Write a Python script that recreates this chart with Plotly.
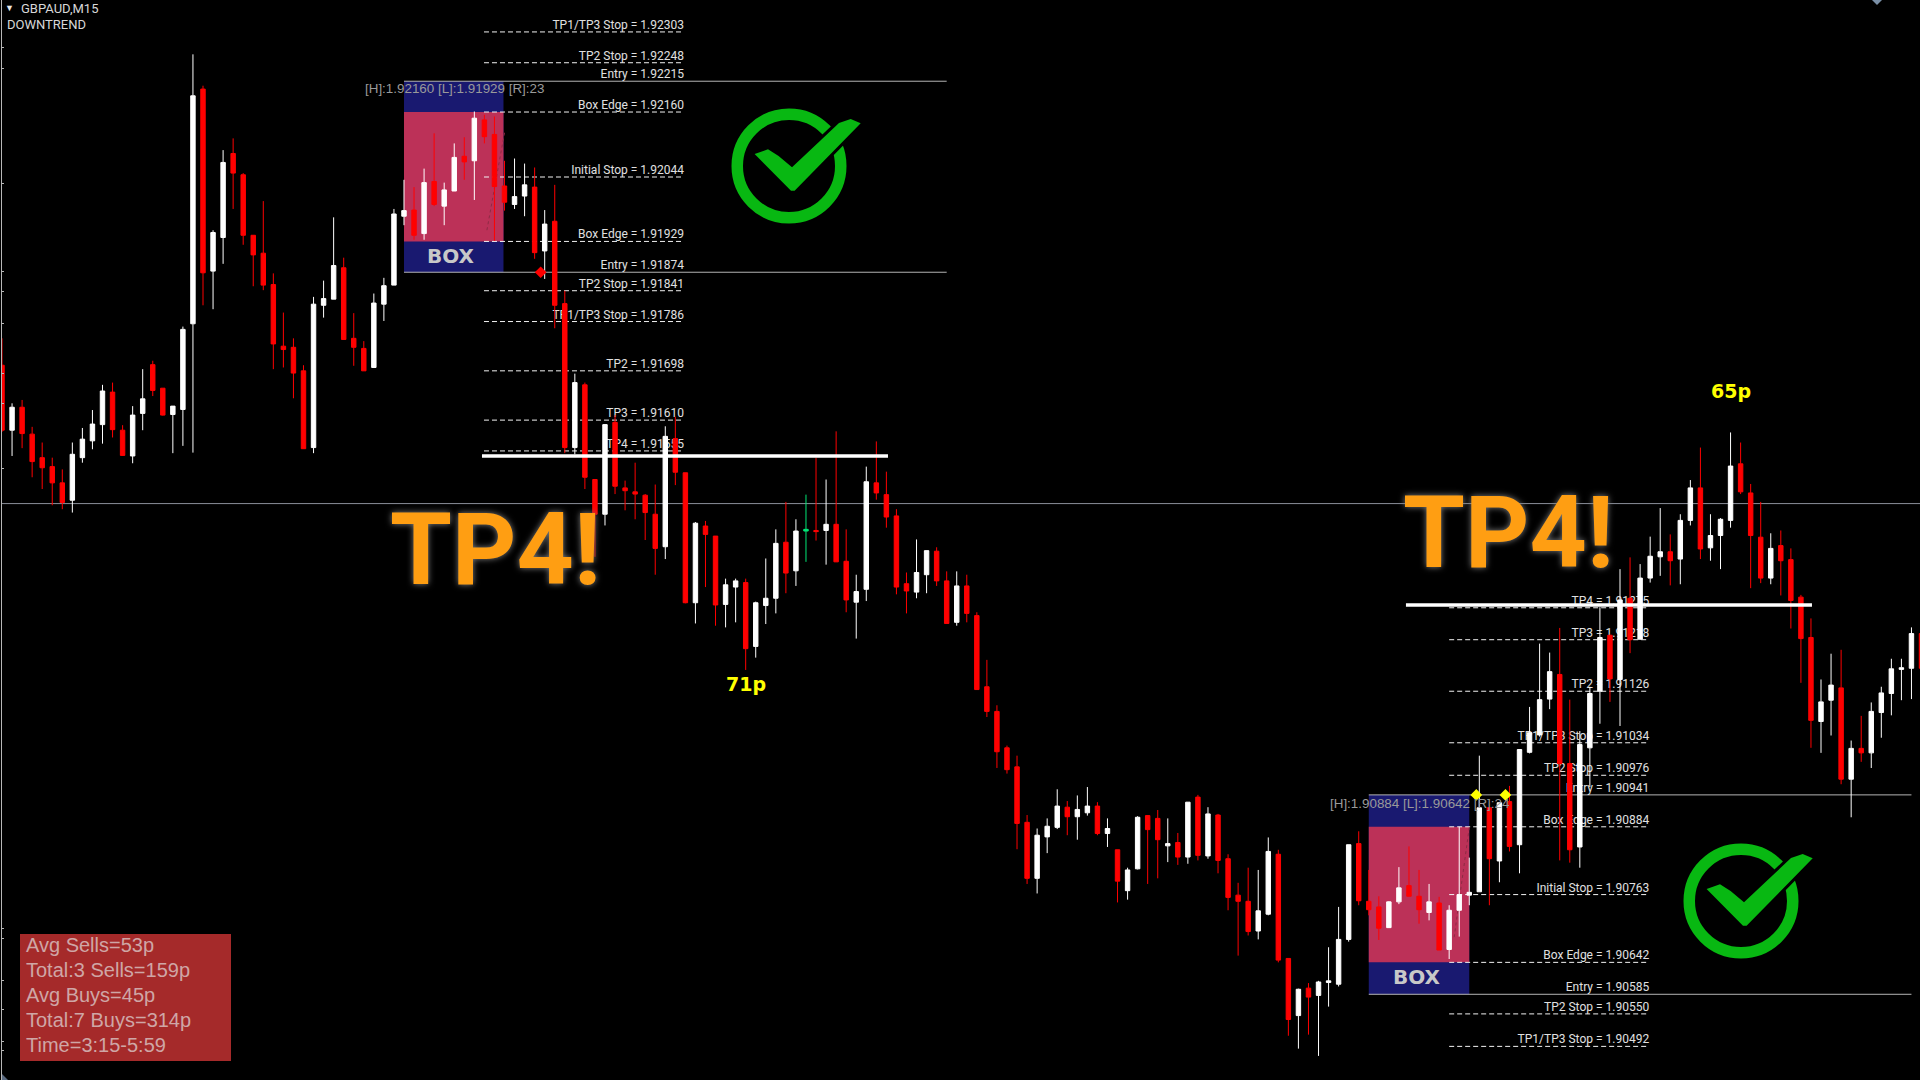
"""
GBPAUD M15 box breakout chart, two TP4 trades
"""

import numpy as np
import plotly.graph_objects as go

# chart data, prices
opens = [
    1.91708, 1.91592, 1.91633, 1.91585, 1.91543, 1.91527, 1.91498, 1.91467, 1.91543, 1.91573,
    1.91602, 1.91660, 1.91592, 1.91546, 1.91622, 1.91709, 1.91667, 1.91620, 1.91629, 1.91782,
    1.92201, 1.91876, 1.91936, 1.92086, 1.92048, 1.91940, 1.91908, 1.91852, 1.91742, 1.91740,
    1.91698, 1.91561, 1.91815, 1.91826, 1.91882, 1.91756, 1.91738, 1.91704, 1.91817, 1.91851,
    1.91974, 1.91985, 1.91943, 1.92036, 1.91992, 1.92019, 1.92081, 1.92073, 1.92146, 1.92120,
    1.92028, 1.91995, 1.92010, 1.92026, 1.91912, 1.91965, 1.91818, 1.91561, 1.91673, 1.91504,
    1.91442, 1.91606, 1.91489, 1.91482, 1.91476, 1.91442, 1.91384, 1.91577, 1.91516, 1.91284,
    1.91421, 1.91403, 1.91281, 1.91312, 1.91320, 1.91206, 1.91279, 1.91292, 1.91392, 1.91341,
    1.91412, 1.91413, 1.91413, 1.91424, 1.91358, 1.91285, 1.91308, 1.91498, 1.91477, 1.91439,
    1.91318, 1.91303, 1.91334, 1.91376, 1.91323, 1.91249, 1.91314, 1.91261, 1.91134, 1.91090,
    1.91025, 1.90991, 1.90892, 1.90792, 1.90866, 1.90883, 1.90919, 1.90902, 1.90909, 1.90921,
    1.90872, 1.90843, 1.90770, 1.90809, 1.90904, 1.90899, 1.90850, 1.90856, 1.90830, 1.90937,
    1.90832, 1.90905, 1.90827, 1.90762, 1.90751, 1.90698, 1.90728, 1.90835, 1.90649, 1.90547,
    1.90596, 1.90583, 1.90606, 1.90603, 1.90683, 1.90854, 1.90751, 1.90741, 1.90704, 1.90750,
    1.90779, 1.90760, 1.90731, 1.90748, 1.90665, 1.90735, 1.90762, 1.90768, 1.90918, 1.90823,
    1.90929, 1.90852, 1.91017, 1.91048, 1.91112, 1.91156, 1.90997, 1.90848, 1.91025, 1.91126,
    1.91226, 1.91147, 1.91292, 1.91219, 1.91328, 1.91366, 1.91375, 1.91362, 1.91431, 1.91489,
    1.91382, 1.91404, 1.91431, 1.91532, 1.91480, 1.91401, 1.91328, 1.91386, 1.91361, 1.91294,
    1.91222, 1.91072, 1.91110, 1.91132, 1.90969, 1.91024, 1.91016, 1.91088, 1.91122, 1.91165,
    1.91167, 1.91229,
]
highs = [
    1.91756, 1.91640, 1.91646, 1.91598, 1.91570, 1.91543, 1.91522, 1.91570, 1.91596, 1.91628,
    1.91673, 1.91677, 1.91601, 1.91635, 1.91701, 1.91716, 1.91667, 1.91635, 1.91777, 1.92263,
    1.92207, 1.91949, 1.92092, 1.92113, 1.92051, 1.91940, 1.92001, 1.91872, 1.91802, 1.91756,
    1.91708, 1.91830, 1.91859, 1.91972, 1.91900, 1.91801, 1.91751, 1.91836, 1.91864, 1.91987,
    1.92039, 1.92026, 1.92059, 1.92122, 1.92034, 1.92104, 1.92115, 1.92161, 1.92155, 1.92152,
    1.92073, 1.92077, 1.92068, 1.92061, 1.91985, 1.92030, 1.91841, 1.91693, 1.91677, 1.91504,
    1.91603, 1.91619, 1.91502, 1.91534, 1.91478, 1.91495, 1.91599, 1.91616, 1.91516, 1.91428,
    1.91430, 1.91403, 1.91327, 1.91327, 1.91327, 1.91286, 1.91363, 1.91415, 1.91464, 1.91433,
    1.91477, 1.91543, 1.91504, 1.91590, 1.91415, 1.91334, 1.91527, 1.91572, 1.91518, 1.91451,
    1.91338, 1.91397, 1.91377, 1.91383, 1.91340, 1.91340, 1.91334, 1.91267, 1.91182, 1.91101,
    1.91029, 1.91011, 1.90905, 1.90881, 1.90899, 1.90951, 1.90930, 1.90940, 1.90955, 1.90928,
    1.90899, 1.90843, 1.90811, 1.90903, 1.90905, 1.90914, 1.90899, 1.90873, 1.90928, 1.90941,
    1.90919, 1.90907, 1.90835, 1.90784, 1.90811, 1.90807, 1.90865, 1.90843, 1.90649, 1.90595,
    1.90605, 1.90609, 1.90669, 1.90741, 1.90852, 1.90876, 1.90807, 1.90760, 1.90751, 1.90812,
    1.90849, 1.90807, 1.90782, 1.90759, 1.90744, 1.90884, 1.90829, 1.91011, 1.90918, 1.90927,
    1.90957, 1.91022, 1.91098, 1.91211, 1.91195, 1.91239, 1.91111, 1.91055, 1.91134, 1.91276,
    1.91226, 1.91344, 1.91365, 1.91353, 1.91402, 1.91453, 1.91406, 1.91442, 1.91503, 1.91561,
    1.91442, 1.91435, 1.91588, 1.91570, 1.91496, 1.91464, 1.91408, 1.91413, 1.91381, 1.91298,
    1.91256, 1.91147, 1.91193, 1.91200, 1.91038, 1.91082, 1.91106, 1.91134, 1.91184, 1.91184,
    1.91240, 1.91235,
]
lows = [
    1.91589, 1.91546, 1.91560, 1.91508, 1.91487, 1.91458, 1.91451, 1.91445, 1.91534, 1.91558,
    1.91568, 1.91579, 1.91546, 1.91533, 1.91592, 1.91653, 1.91618, 1.91551, 1.91564, 1.91552,
    1.91815, 1.91808, 1.91889, 1.91987, 1.91923, 1.91849, 1.91842, 1.91701, 1.91704, 1.91649,
    1.91559, 1.91551, 1.91793, 1.91826, 1.91754, 1.91707, 1.91698, 1.91703, 1.91787, 1.91851,
    1.91958, 1.91932, 1.91932, 1.91992, 1.91958, 1.92019, 1.92039, 1.92003, 1.92104, 1.91930,
    1.91984, 1.91987, 1.91974, 1.91898, 1.91862, 1.91774, 1.91551, 1.91549, 1.91487, 1.91366,
    1.91422, 1.91478, 1.91449, 1.91433, 1.91396, 1.91334, 1.91362, 1.91494, 1.91283, 1.91247,
    1.91312, 1.91243, 1.91240, 1.91249, 1.91164, 1.91186, 1.91246, 1.91265, 1.91301, 1.91314,
    1.91357, 1.91395, 1.91352, 1.91357, 1.91267, 1.91220, 1.91287, 1.91468, 1.91418, 1.91299,
    1.91265, 1.91292, 1.91301, 1.91314, 1.91247, 1.91243, 1.91249, 1.91129, 1.91080, 1.90989,
    1.90979, 1.90844, 1.90782, 1.90765, 1.90837, 1.90880, 1.90869, 1.90861, 1.90904, 1.90869,
    1.90848, 1.90749, 1.90754, 1.90808, 1.90782, 1.90792, 1.90821, 1.90816, 1.90818, 1.90824,
    1.90827, 1.90801, 1.90735, 1.90654, 1.90690, 1.90683, 1.90726, 1.90642, 1.90511, 1.90488,
    1.90513, 1.90475, 1.90563, 1.90599, 1.90679, 1.90744, 1.90726, 1.90682, 1.90704, 1.90746,
    1.90760, 1.90711, 1.90717, 1.90664, 1.90648, 1.90688, 1.90744, 1.90768, 1.90744, 1.90785,
    1.90840, 1.90801, 1.91015, 1.91045, 1.91094, 1.90824, 1.90820, 1.90811, 1.90955, 1.91068,
    1.91107, 1.91064, 1.91194, 1.91218, 1.91320, 1.91332, 1.91315, 1.91317, 1.91422, 1.91362,
    1.91359, 1.91344, 1.91418, 1.91478, 1.91310, 1.91319, 1.91317, 1.91297, 1.91238, 1.91141,
    1.91025, 1.91016, 1.91047, 1.90960, 1.90901, 1.91000, 1.90989, 1.91043, 1.91083, 1.91110,
    1.91112, 1.91143,
]
closes = [
    1.91592, 1.91633, 1.91586, 1.91536, 1.91525, 1.91498, 1.91463, 1.91549, 1.91576, 1.91603,
    1.91662, 1.91593, 1.91547, 1.91619, 1.91648, 1.91663, 1.91619, 1.91635, 1.91772, 1.92189,
    1.91873, 1.91945, 1.92070, 1.92051, 1.91940, 1.91905, 1.91851, 1.91746, 1.91736, 1.91694,
    1.91559, 1.91817, 1.91827, 1.91886, 1.91754, 1.91740, 1.91698, 1.91819, 1.91850, 1.91978,
    1.91984, 1.91940, 1.92034, 1.91995, 1.92021, 1.92079, 1.92071, 1.92149, 1.92116, 1.92027,
    1.91999, 1.92009, 1.92030, 1.91909, 1.91960, 1.91815, 1.91561, 1.91677, 1.91508, 1.91442,
    1.91602, 1.91492, 1.91484, 1.91478, 1.91445, 1.91381, 1.91581, 1.91517, 1.91284, 1.91426,
    1.91406, 1.91280, 1.91316, 1.91323, 1.91202, 1.91284, 1.91292, 1.91390, 1.91337, 1.91412,
    1.91415, 1.91411, 1.91424, 1.91357, 1.91289, 1.91304, 1.91500, 1.91480, 1.91437, 1.91312,
    1.91305, 1.91338, 1.91377, 1.91323, 1.91247, 1.91314, 1.91265, 1.91129, 1.91090, 1.91018,
    1.90986, 1.90890, 1.90792, 1.90869, 1.90885, 1.90921, 1.90902, 1.90915, 1.90921, 1.90872,
    1.90881, 1.90787, 1.90807, 1.90901, 1.90879, 1.90861, 1.90854, 1.90830, 1.90928, 1.90833,
    1.90907, 1.90824, 1.90758, 1.90751, 1.90697, 1.90734, 1.90840, 1.90646, 1.90540, 1.90594,
    1.90580, 1.90607, 1.90609, 1.90683, 1.90852, 1.90752, 1.90736, 1.90703, 1.90750, 1.90775,
    1.90760, 1.90736, 1.90750, 1.90664, 1.90735, 1.90763, 1.90767, 1.90918, 1.90827, 1.90927,
    1.90849, 1.91022, 1.91052, 1.91111, 1.91161, 1.90997, 1.90843, 1.91031, 1.91122, 1.91222,
    1.91148, 1.91289, 1.91218, 1.91328, 1.91367, 1.91375, 1.91359, 1.91431, 1.91489, 1.91380,
    1.91404, 1.91433, 1.91528, 1.91482, 1.91404, 1.91328, 1.91381, 1.91359, 1.91288, 1.91220,
    1.91074, 1.91107, 1.91137, 1.90969, 1.91024, 1.91016, 1.91090, 1.91123, 1.91166, 1.91168,
    1.91229, 1.91167,
]
green_bar = 80

level_names_a = ["TP1/TP3 Stop", "TP2 Stop", "Entry", "Box Edge", "Initial Stop", "Box Edge",
                 "Entry", "TP2 Stop", "TP1/TP3 Stop", "TP2", "TP3", "TP4"]
level_prices_a = [1.92303, 1.92248, 1.92215, 1.92160, 1.92044, 1.91929,
                  1.91874, 1.91841, 1.91786, 1.91698, 1.91610, 1.91555]
level_names_b = ["TP4", "TP3", "TP2", "TP1/TP3 Stop", "TP2 Stop", "Entry", "Box Edge",
                 "Initial Stop", "Box Edge", "Entry", "TP2 Stop", "TP1/TP3 Stop"]
level_prices_b = [1.91275, 1.91218, 1.91126, 1.91034, 1.90976, 1.90941, 1.90884,
                  1.90763, 1.90642, 1.90585, 1.90550, 1.90492]

stats_lines = ["Avg Sells=53p", "Total:3 Sells=159p", "Avg Buys=45p", "Total:7 Buys=314p", "Time=3:15-5:59"]
axis_tick_prices = [1.92276, 1.92237, 1.92033, 1.91876, 1.91840, 1.91783, 1.91694, 1.91640,
                    1.91523, 1.90703, 1.90685, 1.90610, 1.90557, 1.90500, 1.90485]

tp4_prices = [1.91546, 1.91280]
session_line = 1.91461
arrow_x = [53.6, 146.7, 149.6]
arrow_y = [1.91874, 1.90941, 1.90941]
arrow_colors = ["#ff0000", "#ffff00", "#ffff00"]
trade_a_x = [50.0, 48.2]
trade_a_y = [1.92123, 1.91944]
trade_b_x = [146.0, 144.5]
trade_b_y = [1.90883, 1.90687]

Y_RANGE = [1.90432, 1.92360]
X_RANGE = [0, 190.85]
NAVY = "#191970"
BOX_RED = "#bc3158"
GREEN = "#08b812"
LABEL_COLOR = "#e0e0e0"


def pos_x(px):
    return (px - 2) / 1918


def pos_y(py):
    return 1 - py / 1080


def add_levels(fig, names, prices, x0, x1, entry_x0, entry_x1):
    # dashed levels, solid entries, labels sit on the right end of the dashes
    dash_x, dash_y, solid_x, solid_y = [], [], [], []
    for name, price in zip(names, prices):
        if name == "Entry":
            solid_x += [entry_x0, entry_x1, None]
            solid_y += [price, price, None]
        else:
            dash_x += [x0, x1, None]
            dash_y += [price, price, None]
    fig.add_trace(go.Scatter(x=dash_x, y=dash_y, mode="lines",
                             line=dict(color="#f2f2f2", width=1, dash="5px,3px")))
    fig.add_trace(go.Scatter(x=solid_x, y=solid_y, mode="lines",
                             line=dict(color="#b4b4b4", width=1)))
    fig.add_trace(go.Scatter(x=[x1] * len(prices), y=prices, mode="text",
                             text=[f"{n} = {p:.5f}" for n, p in zip(names, prices)],
                             textposition="top left",
                             textfont=dict(family="Roboto", size=12, color=LABEL_COLOR)))


def box_shapes(x0, x1, entries, edges):
    return [
        dict(type="rect", xref="x", yref="y", layer="below", x0=x0, x1=x1,
             y0=entries[0], y1=entries[1], fillcolor=NAVY, line_width=0),
        dict(type="rect", xref="x", yref="y", layer="below", x0=x0, x1=x1,
             y0=edges[0], y1=edges[1], fillcolor=BOX_RED, line_width=0),
    ]


def corner_mark(points, color):
    path = "M " + " L ".join(f"{pos_x(x):.5f} {pos_y(y):.5f}" for x, y in points) + " Z"
    return dict(type="path", xref="paper", yref="paper", path=path, fillcolor=color, line_width=0)


def check_shapes(cx, cy):
    r = 51.75
    ring = dict(type="circle", xref="paper", yref="paper",
                x0=pos_x(cx - r), x1=pos_x(cx + r), y0=pos_y(cy - r), y1=pos_y(cy + r),
                line=dict(color=GREEN, width=11.5), fillcolor="rgba(0,0,0,0)")
    tick = [(-34.4, -12), (-21, -16.7), (-10.4, -10), (3, 1.3), (32, -26), (50, -43),
            (61.7, -47), (71.7, -42.7), (5.6, 24.7), (2, 24.7)]
    path = "M " + " L ".join(f"{pos_x(cx + dx):.5f} {pos_y(cy + dy):.5f}" for dx, dy in tick) + " Z"
    # black outline first, it cuts the gap in the ring
    gap = dict(type="path", xref="paper", yref="paper", path=path,
               fillcolor="#000000", line=dict(color="#000000", width=6))
    mark = dict(type="path", xref="paper", yref="paper", path=path, fillcolor=GREEN, line_width=0)
    return [ring, gap, mark]


def text_note(text, px, py, size, color, family="Roboto", weight="normal", xanchor="center", shadow=None):
    font = dict(family=family, size=size, color=color, weight=weight)
    if shadow:
        font["shadow"] = shadow
    return dict(text=text, xref="paper", yref="paper", x=pos_x(px), y=pos_y(py),
                xanchor=xanchor, yanchor="middle", showarrow=False, font=font,
                borderpad=0, align="left")


fig = go.Figure()

add_levels(fig, level_names_a, level_prices_a, 47.96, 67.86, 40.0, 94.0)
add_levels(fig, level_names_b, level_prices_b, 144.0, 163.9, 136.0, 190.0)

for tx, ty in ((trade_a_x, trade_a_y), (trade_b_x, trade_b_y)):
    fig.add_trace(go.Scatter(x=tx, y=ty, mode="lines",
                             line=dict(color="#8e2a44", width=1, dash="dot")))

# candles go on the overlaid axes so they cover the labels
bar_idx = np.arange(len(opens))
plain = bar_idx != green_bar
o, h, l, c = map(np.array, (opens, highs, lows, closes))

fig.add_trace(go.Candlestick(
    x=bar_idx[plain], open=o[plain], high=h[plain], low=l[plain], close=c[plain],
    xaxis="x2", yaxis="y2", whiskerwidth=0,
    increasing=dict(line=dict(color="#ffffff", width=1), fillcolor="#ffffff"),
    decreasing=dict(line=dict(color="#ff0000", width=1), fillcolor="#ff0000"),
))
fig.add_trace(go.Candlestick(
    x=bar_idx[~plain], open=o[~plain], high=h[~plain], low=l[~plain], close=c[~plain],
    xaxis="x2", yaxis="y2", whiskerwidth=0,
    increasing=dict(line=dict(color="#00e676", width=1), fillcolor="#00e676"),
    decreasing=dict(line=dict(color="#00e676", width=1), fillcolor="#00e676"),
))
fig.add_trace(go.Scatter(x=arrow_x, y=arrow_y, mode="markers", xaxis="x2", yaxis="y2",
                         marker=dict(symbol="diamond", size=9, color=arrow_colors)))

shapes = []
shapes.append(dict(type="line", xref="paper", yref="y", layer="below", x0=0, x1=1,
                   y0=session_line, y1=session_line, line=dict(color="#8a8f99", width=1)))
shapes += box_shapes(40.0, 49.9, (1.92215, 1.91874), (1.92160, 1.91929))
shapes += box_shapes(136.0, 146.0, (1.90941, 1.90585), (1.90884, 1.90642))
shapes.append(dict(type="line", xref="x", yref="y", layer="above", x0=47.76, x1=88.16,
                   y0=tp4_prices[0], y1=tp4_prices[0], line=dict(color="#ffffff", width=3.5)))
shapes.append(dict(type="line", xref="x", yref="y", layer="above", x0=139.7, x1=180.1,
                   y0=tp4_prices[1], y1=tp4_prices[1], line=dict(color="#ffffff", width=3.5)))
shapes.append(dict(type="rect", xref="paper", yref="paper", layer="above",
                   x0=pos_x(20), x1=pos_x(231), y0=pos_y(934), y1=pos_y(1061),
                   fillcolor="#a52a2a", line_width=0))
shapes += check_shapes(789, 166)
shapes += check_shapes(1741, 901)
shapes.append(corner_mark([(1872, 0), (1882, 0), (1877, 5)], "#7a8fa6"))
shapes.append(corner_mark([(2, 1074), (8, 1080), (2, 1080)], "#5a6a80"))

TP4_SHADOW = "0 0 6px #808080"

notes = [
    text_note("▼", 9, 8, 9, "#e8e8e8"),
    text_note("GBPAUD,M15", 20, 8, 13, "#d8d8d8", xanchor="left"),
    text_note("DOWNTREND", 6, 24, 13, "#d8d8d8", xanchor="left"),
    text_note("[H]:1.92160 [L]:1.91929 [R]:23", 364, 89, 13.4, "#9a9a9a", "Liberation Sans", xanchor="left"),
    text_note("[H]:1.90884 [L]:1.90642 [R]:24", 1329, 803, 13.4, "#9a9a9a", "Liberation Sans", xanchor="left"),
    text_note("BOX", 451, 256, 20, "#c8c8c8", "DejaVu Sans", "bold"),
    text_note("BOX", 1417, 977, 20, "#c8c8c8", "DejaVu Sans", "bold"),
    text_note("TP4!", 495, 549, 100, "#ff9e12", "Roboto", "bold", shadow=TP4_SHADOW),
    text_note("TP4!", 1508, 532, 100, "#ff9e12", "Roboto", "bold", shadow=TP4_SHADOW),
    text_note("71p", 746, 684, 19, "#ffff00", "DejaVu Sans", "bold"),
    text_note("65p", 1731, 391, 19, "#ffff00", "DejaVu Sans", "bold"),
]
for n, line in enumerate(stats_lines):
    notes.append(text_note(line, 25, 945 + n * 25.1, 20, "#cfa6a6", "Liberation Sans", xanchor="left"))

hidden_x = dict(visible=False, range=X_RANGE, fixedrange=True)

fig.update_layout(
    width=1920, height=1080,
    margin=dict(l=2, r=0, t=0, b=0, autoexpand=False),
    paper_bgcolor="#000000", plot_bgcolor="#000000",
    showlegend=False, boxgap=0.37, hovermode=False,
    xaxis=dict(hidden_x),
    yaxis=dict(range=Y_RANGE, fixedrange=True, showgrid=False, zeroline=False, showticklabels=False,
               showline=True, linecolor="#b8b8b8", linewidth=1, ticks="inside", ticklen=2,
               tickcolor="#b8b8b8", tickvals=axis_tick_prices),
    xaxis2=dict(hidden_x, overlaying="x", rangeslider=dict(visible=False)),
    yaxis2=dict(range=Y_RANGE, overlaying="y", visible=False, fixedrange=True),
    shapes=shapes,
    annotations=notes,
)

fig.write_html("out.html", config=dict(displayModeBar=False),
               post_script="document.body.style.margin='0';document.documentElement.style.overflow='hidden';")
